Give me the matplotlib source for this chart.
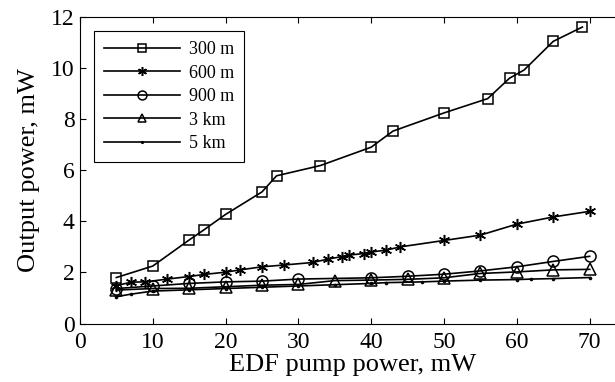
import numpy as np
import matplotlib.pyplot as plt

# Datos
x300 = [5, 10, 15, 17, 20, 25, 27, 33, 40, 43, 50, 56, 59, 61, 65, 69]
y300 = [1.8, 2.25, 3.27, 3.66, 4.27, 5.15, 5.78, 6.18, 6.9, 7.53, 8.24, 8.8, 9.6, 9.92, 11.04, 11.6]

x600 = [5, 7, 9, 12, 15, 17, 20, 22, 25, 28, 32, 34, 36, 37, 39, 40, 42, 44, 50, 55, 60, 65, 70]
y600 = [1.48, 1.62, 1.63, 1.74, 1.84, 1.92, 2.01, 2.1, 2.22, 2.29, 2.39, 2.52, 2.62, 2.68, 2.74,
        2.8, 2.87, 3.0, 3.25, 3.46, 3.89, 4.17, 4.39]

x900 = [5, 10, 15, 20, 25, 30, 40, 45, 50, 55, 60, 65, 70]
y900 = [1.37, 1.47, 1.57, 1.63, 1.66, 1.74, 1.79, 1.85, 1.93, 2.06, 2.22, 2.43, 2.63]

x3k = [5, 10, 15, 20, 25, 30, 35, 40, 45, 50, 55, 60, 65, 70]
y3k = [1.31, 1.37, 1.38, 1.44, 1.5, 1.53, 1.68, 1.7, 1.73, 1.79, 1.96, 2.02, 2.1, 2.12]

x5k = [5, 7, 10, 15, 20, 25, 30, 35, 40, 42, 47, 50, 55, 60, 62, 65, 70]
y5k = [1.05, 1.15, 1.27, 1.32, 1.37, 1.42, 1.47, 1.52, 1.57, 1.6, 1.63, 1.66, 1.7, 1.72, 1.74, 1.76, 1.8]

plt.rcParams['font.family'] = 'Liberation Serif'

fig = plt.figure(figsize=(6.15, 3.82), dpi=100)
ax = fig.add_axes([0.130, 0.153, 0.888, 0.803])

kw = dict(color='black', linewidth=1.2, markerfacecolor='none', markeredgecolor='black',
          markeredgewidth=1.1)
ax.plot(x300, y300, marker='s', markersize=7, label='300 m', **kw)
ax.plot(x600, y600, marker=(6, 2, 0), markersize=8, label='600 m', **kw)
ax.plot(x900, y900, marker='o', markersize=8, label='900 m', **kw)
ax.plot(x3k, y3k, marker='^', markersize=8, label='3 km', **kw)
ax.plot(x5k, y5k, marker='.', markersize=3, label='5 km', **kw)

ax.set_xlim(0, 75)
ax.set_ylim(0, 12)
ax.set_xticks(np.arange(0, 80, 10))
ax.set_yticks(np.arange(0, 14, 2))
ax.tick_params(direction='in', top=True, right=True, labelsize=17, length=4)
ax.tick_params(axis='x', pad=6)
ax.tick_params(axis='y', pad=4)
for s in ax.spines.values():
    s.set_linewidth(0.8)
ax.set_xlabel('EDF pump power, mW', fontsize=19, labelpad=1)
ax.set_ylabel('Output power, mW', fontsize=19, labelpad=8)

leg = ax.legend(loc='upper left', fontsize=13, handlelength=4.2, handletextpad=0.5,
                labelspacing=0.36, borderpad=0.55, fancybox=False, edgecolor='black',
                framealpha=1, borderaxespad=0.8, markerscale=0.8)
leg.get_frame().set_linewidth(0.8)

plt.savefig('out.png', dpi=100)
